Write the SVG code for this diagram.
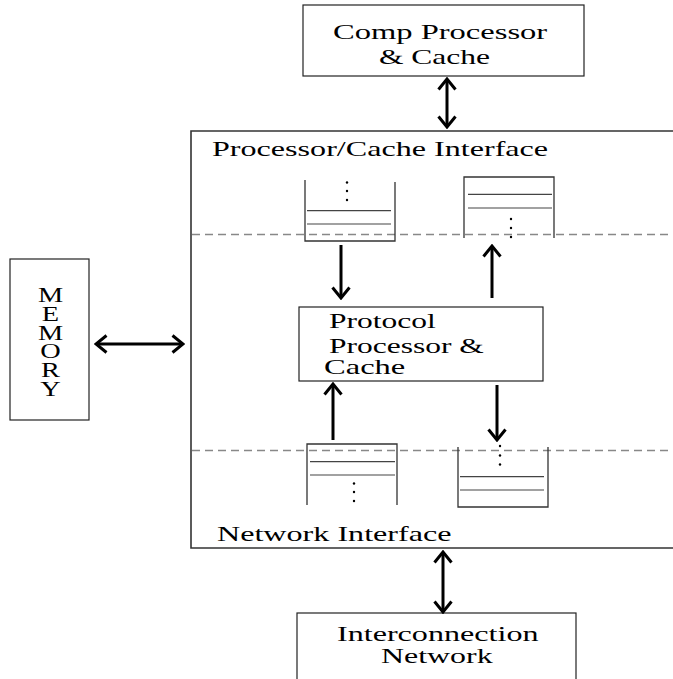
<svg xmlns="http://www.w3.org/2000/svg" width="673" height="679" viewBox="0 0 673 679">
<style>
  .box { fill: #fff; stroke: #222; stroke-width: 1.2; }
  .frame { fill: none; stroke: #333; stroke-width: 1.6; }
  .fifo { fill: none; stroke: #333; stroke-width: 1.3; }
  .slot { stroke: #444; stroke-width: 1.2; }
  .dash { stroke: #888; stroke-width: 1.5; stroke-dasharray: 8 5; fill: none; }
  .conn { stroke: #000; stroke-width: 3; fill: none; }
  .t { font-family: "Liberation Serif", "Times New Roman", serif; font-size: 21px; fill: #000; }
  .dot { fill: #000; }
</style>
<defs>
  <marker id="head" viewBox="0 0 14 20" refX="12" refY="10" markerWidth="14" markerHeight="20" markerUnits="userSpaceOnUse" orient="auto-start-reverse">
    <path d="M1.5,1.5 L12,10 L1.5,18.5" fill="none" stroke="#000" stroke-width="3"/>
  </marker>
</defs>

<g id="main-frame">
  <path class="frame" d="M673,131 H191 V548 H673"/>
  <path class="dash" d="M192,234.5 H673"/>
  <path class="dash" d="M192,450.5 H673"/>
  <text class="t" transform="translate(212,156) scale(1.53,1)">Processor/Cache Interface</text>
  <text class="t" transform="translate(217,541) scale(1.53,1)">Network Interface</text>
</g>

<g id="comp-processor">
  <rect class="box" x="303" y="5" width="281" height="71"/>
  <text class="t" transform="translate(333,39) scale(1.55,1)">Comp Processor</text>
  <text class="t" transform="translate(379,64) scale(1.5,1)">&amp; Cache</text>
</g>

<g id="memory">
  <rect class="box" x="10" y="259" width="79" height="161"/>
  <text class="t" transform="translate(50.5,0) scale(1.35,1)" font-size="18.5" text-anchor="middle"><tspan x="0" y="302">M</tspan><tspan x="0" y="320.8">E</tspan><tspan x="0" y="339.6">M</tspan><tspan x="0" y="358.4">O</tspan><tspan x="0" y="377.2">R</tspan><tspan x="0" y="396">Y</tspan></text>
</g>

<g id="protocol-processor">
  <rect class="box" x="299" y="307" width="244" height="74"/>
  <text class="t" transform="translate(329,328) scale(1.5,1)">Protocol</text>
  <text class="t" transform="translate(329,353) scale(1.5,1)">Processor &amp;</text>
  <text class="t" transform="translate(324,374) scale(1.55,1)">Cache</text>
</g>

<g id="interconnection-network">
  <rect class="box" x="297" y="613" width="279" height="80"/>
  <text class="t" transform="translate(337,641) scale(1.53,1)">Interconnection</text>
  <text class="t" transform="translate(381,663) scale(1.52,1)">Network</text>
</g>

<g id="fifo-pc-in">
  <path class="fifo" d="M305,180 V241 H395 V182"/>
  <line class="slot" x1="307" y1="210.7" x2="391" y2="210.7"/>
  <line class="slot" x1="307" y1="224" x2="391" y2="224"/>
  <circle class="dot" cx="347" cy="182.5" r="1.2"/>
  <circle class="dot" cx="347" cy="191" r="1.2"/>
  <circle class="dot" cx="347" cy="200" r="1.2"/>
</g>

<g id="fifo-pc-out">
  <path class="fifo" d="M464,238 V177 H554 V238"/>
  <line class="slot" x1="468" y1="194.3" x2="552" y2="194.3"/>
  <line class="slot" x1="468" y1="208" x2="552" y2="208"/>
  <circle class="dot" cx="511" cy="219" r="1.2"/>
  <circle class="dot" cx="511" cy="228" r="1.2"/>
  <circle class="dot" cx="511" cy="237" r="1.2"/>
</g>

<g id="fifo-net-in">
  <path class="fifo" d="M307,505 V444 H397 V505"/>
  <line class="slot" x1="310" y1="461.7" x2="395" y2="461.7"/>
  <line class="slot" x1="310" y1="475" x2="395" y2="475"/>
  <circle class="dot" cx="354" cy="483.5" r="1.2"/>
  <circle class="dot" cx="354" cy="492" r="1.2"/>
  <circle class="dot" cx="354" cy="501" r="1.2"/>
</g>

<g id="fifo-net-out">
  <path class="fifo" d="M458,447 V507 H548 V447"/>
  <line class="slot" x1="460" y1="476.7" x2="544" y2="476.7"/>
  <line class="slot" x1="460" y1="490" x2="544" y2="490"/>
  <circle class="dot" cx="500" cy="446" r="1.2"/>
  <circle class="dot" cx="500" cy="455.5" r="1.2"/>
  <circle class="dot" cx="500" cy="464.5" r="1.2"/>
</g>

<g id="connectors">
  <line class="conn" x1="447" y1="79" x2="447" y2="127" marker-start="url(#head)" marker-end="url(#head)"/>
  <line class="conn" x1="96" y1="344" x2="183" y2="344" marker-start="url(#head)" marker-end="url(#head)"/>
  <line class="conn" x1="341" y1="245" x2="341" y2="298" marker-end="url(#head)"/>
  <line class="conn" x1="492" y1="298" x2="492" y2="246" marker-end="url(#head)"/>
  <line class="conn" x1="333" y1="440" x2="333" y2="384" marker-end="url(#head)"/>
  <line class="conn" x1="497" y1="385" x2="497" y2="440" marker-end="url(#head)"/>
  <line class="conn" x1="443" y1="552" x2="443" y2="612" marker-start="url(#head)" marker-end="url(#head)"/>
</g>
</svg>
